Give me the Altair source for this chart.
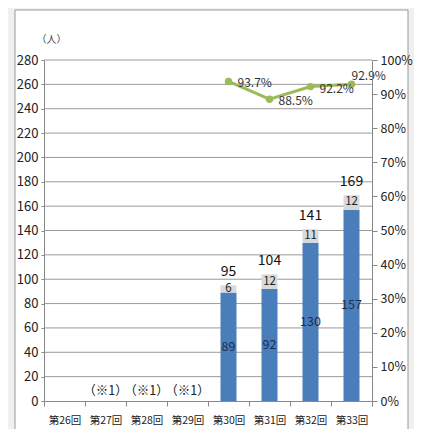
import altair as alt
import pandas as pd

categories = ["第26回", "第27回", "第28回", "第29回", "第30回", "第31回", "第32回", "第33回"]
passed = [None, None, None, None, 89, 92, 130, 157]
failed = [None, None, None, None, 6, 12, 11, 12]
totals = [None, None, None, None, 95, 104, 141, 169]
rates = [None, None, None, None, 0.937, 0.885, 0.922, 0.929]
notes = [None, "（※1）", "（※1）", "（※1）", None, None, None, None]
left_ticks = list(range(0, 281, 20))
right_ticks = [i / 10 for i in range(11)]

FONT = "Liberation Sans Narrow, Noto Sans CJK JP"
CJK = "Noto Sans CJK JP"
BLUE = "#4a7ebb"
GRAY = "#d9d9d9"
GREEN = "#9bbb59"

rows = []
for c, p, f in zip(categories, passed, failed):
    if p is not None:
        rows.append({"cat": c, "seg": "合格", "val": p, "ord": 0})
        rows.append({"cat": c, "seg": "不合格", "val": f, "ord": 1})
bars_df = pd.DataFrame(rows)

lab_rows = []
for c, p, f, t in zip(categories, passed, failed, totals):
    if p is not None:
        lab_rows.append({"cat": c, "low_mid": p / 2, "high_mid": p + f / 2,
                         "p": str(p), "f": str(f), "t": str(t), "total": t})
lab_df = pd.DataFrame(lab_rows)

note_df = pd.DataFrame([{"cat": c, "note": n} for c, n in zip(categories, notes) if n])
rate_df = pd.DataFrame([{"cat": c, "rate": r, "lab": f"{r*100:.1f}%"} for c, r in zip(categories, rates) if r is not None])
grid_df = pd.DataFrame({"g": [v for v in left_ticks if v > 0]})

xscale = alt.Scale(domain=categories, paddingInner=0, paddingOuter=0)
x_axis = alt.Axis(title=None, labelAngle=0, tickBand="extent", ticks=True, tickSize=5,
                  tickColor="#888888", domainColor="#888888", labelFont=FONT,
                  labelFontSize=10.5, labelColor="#222222", labelPadding=9, grid=False, zindex=1)
x_enc = alt.X("cat:N", scale=xscale, axis=x_axis, sort=categories)

yscale = alt.Scale(domain=[0, 280], nice=False)
y_axis = alt.Axis(title="（人）", titleAngle=0, titleAlign="left", titleX=-8, titleY=-16,
                  titleFont=CJK, titleFontSize=10, titleFontWeight="normal", titleColor="#444444",
                  values=left_ticks, grid=False,
                  domainColor="#888888", tickColor="#888888", tickSize=3,
                  labelFont=FONT, labelFontSize=13, labelColor="#222222", labelPadding=3, zindex=1)


def ly(field):
    return alt.Y(field, scale=yscale, axis=y_axis)


frame = alt.Chart(pd.DataFrame({"a": [0]})).mark_rect(
    fill="white", stroke="#999999", strokeWidth=1
).encode(x=alt.value(-29), x2=alt.value(364), y=alt.value(-50), y2=alt.value(390))

grid = alt.Chart(grid_df).mark_rule(color="#9a9a9a", strokeWidth=1).encode(y=ly("g:Q"))

bars = alt.Chart(bars_df).mark_bar(size=16).encode(
    x=x_enc,
    y=alt.Y("val:Q", stack="zero", scale=yscale, axis=y_axis),
    color=alt.Color("seg:N", scale=alt.Scale(domain=["合格", "不合格"], range=[BLUE, GRAY]), legend=None),
    order=alt.Order("ord:Q"),
)

low_txt = alt.Chart(lab_df).mark_text(font=FONT, fontSize=12.5, color="#1f2d4d", baseline="middle").encode(
    x=x_enc, y=ly("low_mid:Q"), text="p:N")
high_txt = alt.Chart(lab_df).mark_text(font=FONT, fontSize=11.5, color="#222222", baseline="middle").encode(
    x=x_enc, y=ly("high_mid:Q"), text="f:N")
tot_txt = alt.Chart(lab_df).mark_text(font=FONT, fontSize=14, color="#111111", baseline="bottom", dy=-6).encode(
    x=x_enc, y=ly("total:Q"), text="t:N")
note_txt = alt.Chart(note_df).mark_text(font=FONT, fontSize=12.5, color="#222222", baseline="bottom", dy=-3).encode(
    x=x_enc, y=alt.value(341), text="note:N")

left = alt.layer(frame, grid, bars, low_txt, high_txt, tot_txt, note_txt)

rscale = alt.Scale(domain=[0, 1], nice=False)
r_axis = alt.Axis(title=None, orient="right", format=".0%", values=right_ticks,
                  grid=False, domainColor="#888888", tickColor="#888888", tickSize=5,
                  labelFont=FONT, labelFontSize=12.5, labelColor="#222222", labelPadding=3, zindex=1)


def ry():
    return alt.Y("rate:Q", scale=rscale, axis=r_axis)


line = alt.Chart(rate_df).mark_line(color=GREEN, strokeWidth=3).encode(x=x_enc, y=ry())
pts = alt.Chart(rate_df).mark_circle(color=GREEN, size=55, opacity=1).encode(x=x_enc, y=ry())
rlab1 = alt.Chart(rate_df).transform_filter(alt.datum.cat != "第33回").mark_text(
    font=FONT, fontSize=12, color="#333333", align="left", baseline="middle", dx=9, dy=2).encode(
    x=x_enc, y=ry(), text="lab:N")
rlab2 = alt.Chart(rate_df).transform_filter(alt.datum.cat == "第33回").mark_text(
    font=FONT, fontSize=12, color="#333333", align="left", baseline="middle", dx=0, dy=-8).encode(
    x=x_enc, y=ry(), text="lab:N")

right = alt.layer(line, pts, rlab1, rlab2)

chart = alt.layer(left, right).resolve_scale(y="independent").properties(
    width=328, height=341,
    padding={"left": 36, "top": 52, "right": 42, "bottom": 28},
    autosize="none",
).configure(background="#f0f0f0").configure_view(stroke=None)

chart.save("out.html", embed_options={"renderer": "svg", "actions": False})
